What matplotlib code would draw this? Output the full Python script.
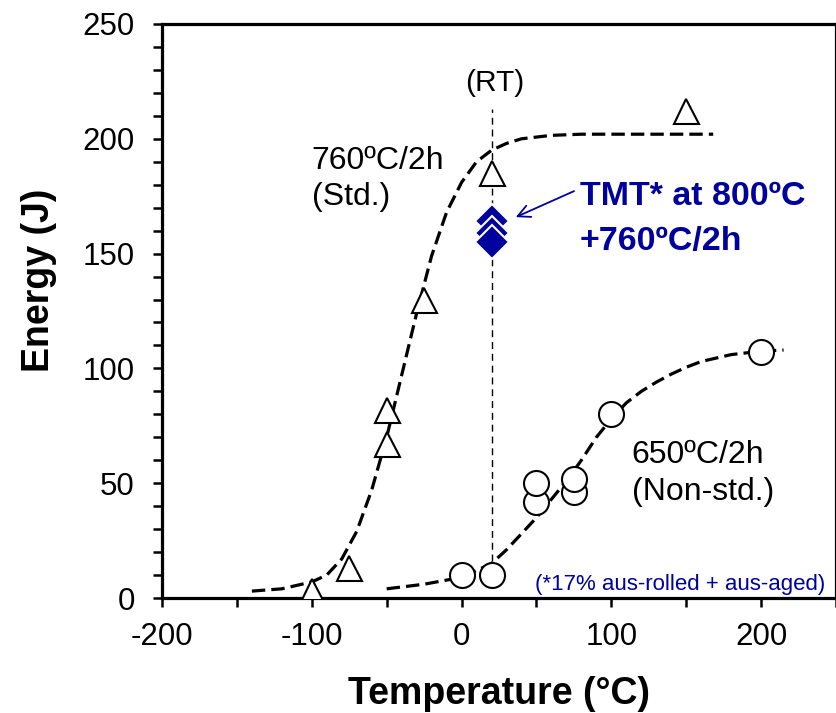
import matplotlib
matplotlib.use("Agg")
import matplotlib.pyplot as plt
from matplotlib.ticker import MultipleLocator

# ---- data ----
std_T = [-100, -75, -50, -50, -25, 20, 150]
std_E = [3, 13, 67, 82, 130, 185, 212]

nonstd_T = [0, 20, 50, 50, 75, 75, 100, 200]
nonstd_E = [10, 10, 42, 50, 46, 52, 80, 107]

tmt_T = [20, 20, 20]
tmt_E = [164, 159, 155]

std_curve_T = [-140, -120, -100, -90, -80, -70, -60, -50, -40, -30, -20, -10, 0, 10, 20, 30, 40, 60, 80, 100, 130, 168]
std_curve_E = [3, 4, 7, 10, 17, 29, 47, 70, 97, 124, 149, 168, 181, 190, 195, 198, 200, 201.5, 202, 202, 202, 202]

nonstd_curve_T = [-50, -25, 0, 10, 20, 30, 40, 50, 60, 70, 80, 90, 100, 110, 120, 130, 140, 150, 160, 180, 200, 215]
nonstd_curve_E = [4, 6, 9, 12, 15, 21, 28, 35, 43, 51, 60, 70, 78, 85, 90, 94, 97.5, 100.5, 103, 106, 107.5, 108]

rt_T = 20
rt_E_range = [16, 213]

x_ticks = [-200, -100, 0, 100, 200]
y_ticks = [0, 50, 100, 150, 200, 250]

plt.rcParams['font.family'] = ['Liberation Sans', 'DejaVu Sans']
plt.rcParams['axes.unicode_minus'] = False
navy = '#00009C'

fig = plt.figure(figsize=(8.37, 7.13), dpi=100)
ax = fig.add_axes([162/837, 1-598/713, (836-162)/837, (598-24)/713])

ax.plot(std_curve_T, std_curve_E, color='black', lw=2.3, ls=(0, (4.2, 1.9)), zorder=2)
ax.plot(nonstd_curve_T, nonstd_curve_E, color='black', lw=2.3, ls=(0, (4.2, 1.9)), zorder=2)
ax.plot([rt_T, rt_T], rt_E_range, color='black', lw=1.0, ls=(0, (5, 3.5)), zorder=1)

ax.plot(std_T, std_E, ls='none', marker='^', ms=18, mfc='white', mec='black', mew=1.5, zorder=3)
ax.plot(nonstd_T, nonstd_E, ls='none', marker='o', ms=18, mfc='white', mec='black', mew=1.5, zorder=3)
ax.plot(tmt_T, tmt_E, ls='none', marker='D', ms=17.5, mfc=navy, mec='white', mew=1.5, zorder=4)

ax.set_xlim(-200, 250)
ax.set_ylim(0, 250)
ax.set_xticks(x_ticks)
ax.set_yticks(y_ticks)
ax.xaxis.set_minor_locator(MultipleLocator(50))
ax.yaxis.set_minor_locator(MultipleLocator(10))
ax.tick_params(which='both', direction='out', length=6.5, width=1.8, color='black')
ax.tick_params(axis='x', which='major', labelsize=22.5, pad=11)
ax.tick_params(axis='y', which='major', labelsize=22.5, pad=13)
for s in ax.spines.values():
    s.set_linewidth(2.3)

ax.set_xlabel('Temperature (°C)', fontsize=27, fontweight='bold', labelpad=17)
fig.text(0.046, 1-280/713, 'Energy (J)', rotation=90, fontsize=27, fontweight='bold',
         ha='center', va='center')

ax.text(-100, 187, '760ºC/2h', fontsize=23, ha='left', va='baseline')
ax.text(-100, 171, '(Std.)', fontsize=23, ha='left', va='baseline')
ax.text(113.5, 58.8, '650ºC/2h', fontsize=23, ha='left', va='baseline')
ax.text(113.5, 42.7, '(Non-std.)', fontsize=23, ha='left', va='baseline')
ax.text(2.3, 221, '(RT)', fontsize=21.5, ha='left', va='baseline')
ax.text(79, 171, 'TMT* at 800ºC', fontsize=24.5, fontweight='bold', color=navy,
        ha='left', va='baseline')
ax.text(79, 151.6, '+760ºC/2h', fontsize=24.5, fontweight='bold', color=navy,
        ha='left', va='baseline')
ax.text(242.6, 3.5, '(*17% aus-rolled + aus-aged)', fontsize=16, color=navy,
        ha='right', va='baseline')
ax.annotate('', xy=(34.5, 165.4), xytext=(76.8, 177.7),
            arrowprops=dict(arrowstyle='->', color=navy, lw=1.3, mutation_scale=22))

fig.savefig('out.png', dpi=100)
